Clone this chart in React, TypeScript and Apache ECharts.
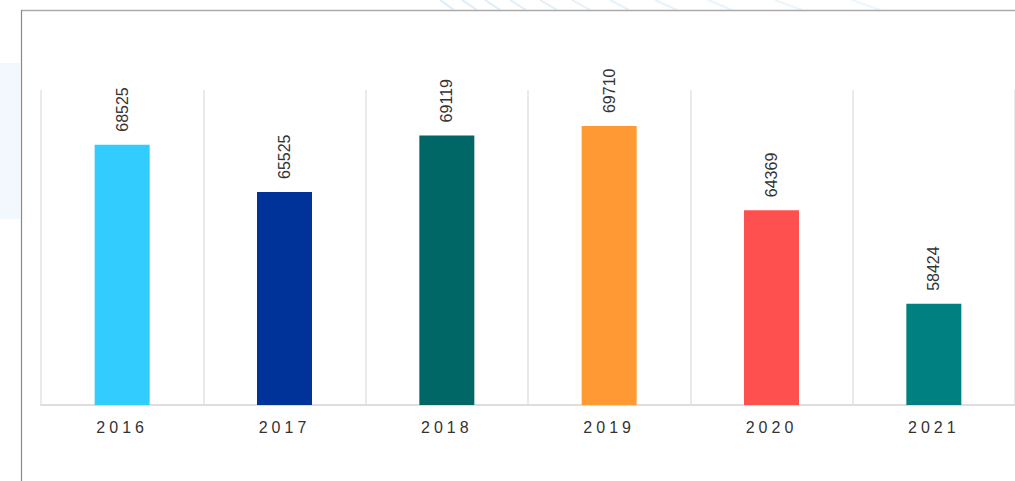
import React, { useEffect, useRef } from "react";
import * as echarts from "echarts";

const categories = ["2016", "2017", "2018", "2019", "2020", "2021"];
const values = [68525, 65525, 69119, 69710, 64369, 58424];
const barColors = ["#33CCFF", "#003399", "#006666", "#FF9933", "#FF5050", "#008080"];

const stripeStarts = [440, 462, 485, 510, 540, 572, 610, 655, 708, 775, 852];
const stripeDx = [14, 15, 15, 16, 17, 18, 19, 22, 24, 27, 28];

export default function App() {
  const ref = useRef<HTMLDivElement>(null);
  useEffect(() => {
    const chart = echarts.init(ref.current!, null, { renderer: "svg" });
    const stripes = stripeStarts.map((x, i) => ({
      type: "line",
      shape: { x1: x, y1: 0, x2: x + stripeDx[i], y2: 10 },
      style: { stroke: "#cfe8f8", lineWidth: 2, opacity: 0.8 - i * 0.04 },
      silent: true,
    }));
    chart.setOption({
      animation: false,
      backgroundColor: "#ffffff",
      graphic: [
        {
          type: "rect",
          shape: { x: 0, y: 63, width: 20, height: 156 },
          style: { fill: "#f2f8fe" },
          silent: true,
        },
        ...stripes,
        {
          type: "line",
          shape: { x1: 21, y1: 10.5, x2: 1015, y2: 10.5 },
          style: { stroke: "#aaaaaa", lineWidth: 1.5 },
          silent: true,
        },
        {
          type: "line",
          shape: { x1: 21.5, y1: 10, x2: 21.5, y2: 481 },
          style: { stroke: "#888888", lineWidth: 1.2 },
          silent: true,
        },
      ],
      grid: { left: 41, right: -6, top: 90, bottom: 76, containLabel: false },
      xAxis: {
        type: "category",
        data: categories,
        boundaryGap: true,
        axisLine: { show: true, lineStyle: { color: "#dddddd", width: 2 } },
        axisTick: { show: false },
        splitLine: { show: true, lineStyle: { color: "#e3e3e3", width: 1.5 } },
        axisLabel: { color: "#333333", fontSize: 16, margin: 14, fontFamily: "Liberation Sans, Arial, sans-serif" },
      },
      yAxis: {
        type: "value",
        min: 52000,
        max: 72000,
        show: false,
        splitLine: { show: false },
      },
      series: [
        {
          type: "bar",
          barWidth: 55,
          data: values.map((v, i) => ({ value: v, itemStyle: { color: barColors[i] } })),
          label: {
            show: true,
            position: "top",
            rotate: 90,
            align: "left",
            verticalAlign: "middle",
            distance: 13,
            color: "#333333",
            fontSize: 16,
            fontFamily: "Liberation Sans, Arial, sans-serif",
          },
        },
      ],
    });
    const applySpacing = () => {
      const texts = ref.current?.querySelectorAll("text") || [];
      texts.forEach((t) => {
        if (categories.includes((t.textContent || "").trim())) {
          (t as SVGTextElement).style.letterSpacing = "4px";
        }
      });
    };
    applySpacing();
    chart.on("finished", applySpacing);
    return () => chart.dispose();
  }, []);
  return (
    <div
      ref={ref}
      style={{ position: "fixed", left: 0, top: 0, width: 1015, height: 481 }}
    />
  );
}
